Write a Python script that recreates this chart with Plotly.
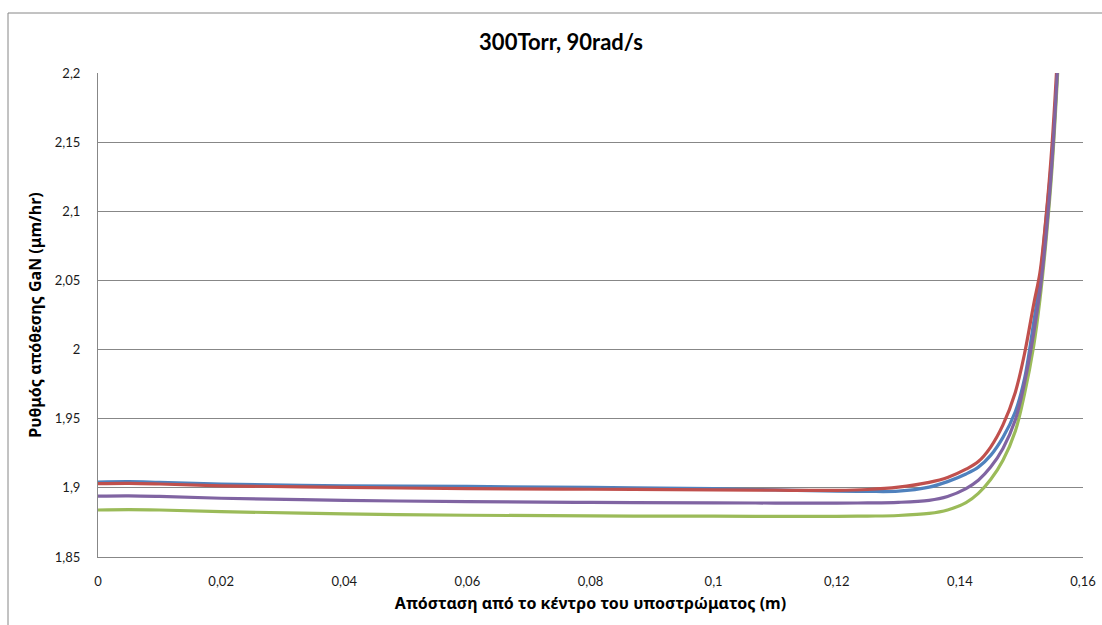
import plotly.graph_objects as go

# Distance from substrate centre (m)
distance = [0, 0.005, 0.01, 0.02, 0.04, 0.06, 0.08, 0.10, 0.11, 0.12, 0.125,
            0.13, 0.135, 0.138, 0.141, 0.143, 0.145, 0.147, 0.149, 0.1505,
            0.152, 0.153, 0.154, 0.155, 0.156]

# GaN deposition rate (um/hr) for the four runs
rate_blue = [1.9042, 1.9045, 1.9040, 1.9028, 1.9015, 1.9010, 1.9003, 1.8994, 1.8985,
             1.8976, 1.8974, 1.8976, 1.9005, 1.9045, 1.9100, 1.9150, 1.9235, 1.9365,
             1.9550, 1.9790, 2.0200, 2.0500, 2.0950, 2.1430, 2.2150]
rate_red = [1.9030, 1.9032, 1.9028, 1.9015, 1.9003, 1.8995, 1.8990, 1.8986, 1.8983,
            1.8982, 1.8988, 1.9005, 1.9040, 1.9075, 1.9135, 1.9190, 1.9295, 1.9455,
            1.9690, 1.9970, 2.0330, 2.0555, 2.0960, 2.1500, 2.2250]
rate_green = [1.8840, 1.8843, 1.8840, 1.8828, 1.8812, 1.8802, 1.8797, 1.8795, 1.8794,
              1.8794, 1.8796, 1.8800, 1.8815, 1.8840, 1.8893, 1.8960, 1.9060, 1.9200,
              1.9410, 1.9680, 2.0030, 2.0360, 2.0790, 2.1330, 2.2100]
rate_purple = [1.8940, 1.8942, 1.8938, 1.8925, 1.8910, 1.8900, 1.8895, 1.8892, 1.8890,
               1.8890, 1.8891, 1.8895, 1.8910, 1.8938, 1.8995, 1.9055, 1.9150, 1.9285,
               1.9490, 1.9760, 2.0120, 2.0420, 2.0830, 2.1380, 2.2150]

y_ticks = [1.85, 1.9, 1.95, 2.0, 2.05, 2.1, 2.15, 2.2]
y_tick_text = ["1,85", "1,9", "1,95", "2", "2,05", "2,1", "2,15", "2,2"]
x_ticks = [0, 0.02, 0.04, 0.06, 0.08, 0.10, 0.12, 0.14, 0.16]
x_tick_text = ["0", "0,02", "0,04", "0,06", "0,08", "0,1", "0,12", "0,14", "0,16"]

series = [
    (rate_blue, "#4F81BD"),
    (rate_red, "#C0504D"),
    (rate_green, "#9BBB59"),
    (rate_purple, "#8064A2"),
]

fig = go.Figure()
for values, colour in series:
    fig.add_trace(go.Scatter(
        x=distance, y=values, mode="lines",
        line=dict(color=colour, width=3.2, shape="spline", smoothing=1.0),
        showlegend=False, hoverinfo="skip",
    ))

W, H = 1102, 625
L, R, T, B = 98, 19, 73, 68
pw, ph = W - L - R, H - T - B

def px_x(p):
    return (p - L) / pw

def px_y(p):
    return (H - B - p) / ph

grid_col = "#878787"
tick_font = dict(family="Lato, 'Noto Sans', sans-serif", size=13, color="#1a1a1a")
greek_font = dict(family="'Noto Sans', sans-serif", size=16, color="#000000")

fig.update_layout(
    width=W, height=H,
    margin=dict(l=L, r=R, t=T, b=B, autoexpand=False),
    paper_bgcolor="white", plot_bgcolor="white",
    title=dict(text="<b>300Torr, 90rad/s</b>", x=561 / W, xref="container",
               xanchor="center", y=1 - 42 / H, yref="container", yanchor="middle",
               font=dict(family="Lato, 'Noto Sans', sans-serif", size=22, color="#000000")),
    xaxis=dict(range=[0, 0.16], tickvals=x_ticks, ticktext=x_tick_text,
               showgrid=False, zeroline=False, showline=True, linecolor=grid_col,
               linewidth=1, ticks="", ticklabelstandoff=12, tickfont=tick_font,
               automargin=False,
               title=dict(text="<b>Απόσταση από το κέντρο του υποστρώματος (m)</b>",
                          font=greek_font, standoff=10)),
    yaxis=dict(range=[1.85, 2.2], tickvals=y_ticks, ticktext=y_tick_text,
               showgrid=True, gridcolor=grid_col, gridwidth=1, zeroline=False,
               showline=True, linecolor=grid_col, linewidth=1, ticks="",
               ticklabelstandoff=14, tickfont=tick_font, automargin=False,
               title=dict(text="<b>Ρυθμός απόθεσης GaN (μm/hr)</b>",
                          font=greek_font, standoff=9)),
    shapes=[dict(type="rect", xref="paper", yref="paper",
                 x0=px_x(8), x1=px_x(1130), y0=px_y(650), y1=px_y(13),
                 line=dict(color="#868686", width=1), layer="below")],
)

fig.write_html("out.html")
